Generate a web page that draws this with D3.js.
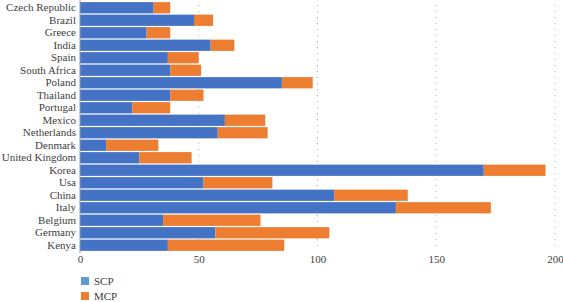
<!DOCTYPE html>
<html><head><meta charset="utf-8">
<script src="https://cdn.jsdelivr.net/npm/d3@7"></script>
<style>body{margin:0;background:#fff;}svg{display:block;} text{font-family:"Liberation Serif",serif;}</style>
</head><body>
<svg id="c" width="563" height="302"></svg>
<script>
const categories = ["Czech Republic","Brazil","Greece","India","Spain","South Africa","Poland","Thailand","Portugal","Mexico","Netherlands","Denmark","United Kingdom","Korea","Usa","China","Italy","Belgium","Germany","Kenya"];
const scp = [31,48,28,55,37,38,85,38,22,61,58,11,25,170,52,107,133,35,57,37];
const mcp = [7,8,10,10,13,13,13,14,16,17,21,22,22,26,29,31,40,41,48,49];
const xTicks = [0,50,100,150,200];
const seriesNames = ["SCP","MCP"];

const svg = d3.select("#c");
const x = d3.scaleLinear().domain([0,200]).range([80,555]);
const y = d3.scaleBand().domain(categories).range([1.5,251.5]).paddingInner(0.1).paddingOuter(0.05);

// gridlines
svg.append("g").selectAll("line").data(xTicks.filter(d=>d>0)).join("line")
  .attr("x1",d=>x(d)).attr("x2",d=>x(d)).attr("y1",5).attr("y2",250)
  .attr("stroke","#aaa").attr("stroke-width",1).attr("stroke-dasharray","1,5");

const rows = categories.map((c,i)=>({c, s:scp[i], m:mcp[i]}));
svg.append("g").selectAll("rect").data(rows).join("rect")
  .attr("x",x(0)).attr("y",d=>y(d.c)).attr("width",d=>x(d.s)-x(0)).attr("height",y.bandwidth())
  .attr("fill","#4472C4");
svg.append("g").selectAll("rect").data(rows).join("rect")
  .attr("x",d=>x(d.s)).attr("y",d=>y(d.c)).attr("width",d=>x(d.s+d.m)-x(d.s)).attr("height",y.bandwidth())
  .attr("fill","#ED7D31");

// zero axis line
svg.append("line").attr("x1",x(0)).attr("x2",x(0)).attr("y1",0).attr("y2",253)
  .attr("stroke","#999").attr("stroke-width",1);

// category labels
const yAxis = d3.axisLeft(y).tickSize(0).tickPadding(3);
const gy = svg.append("g").attr("transform",`translate(${x(0)-1},0)`).call(yAxis);
gy.select(".domain").remove();
gy.selectAll("text").style("font-family",'"Liberation Serif", serif').attr("font-size",11).attr("fill","#404040");

// x tick labels
const xAxis = d3.axisBottom(x).tickValues(xTicks).tickSize(0).tickPadding(0);
const gx = svg.append("g").attr("transform","translate(0,255)").call(xAxis);
gx.select(".domain").remove();
gx.selectAll("text").style("font-family",'"Liberation Serif", serif').attr("font-size",11).attr("fill","#404040");

// legend
const leg = svg.append("g");
const legColors = ["#5B9BD5","#ED7D31"];
seriesNames.forEach((n,i)=>{
  const yy = 277 + i*15;
  leg.append("rect").attr("x",81).attr("y",yy).attr("width",8).attr("height",8).attr("fill",legColors[i]);
  leg.append("text").attr("x",94).attr("y",yy+8).style("font-family",'"Liberation Serif", serif').attr("font-size",11).attr("fill","#404040").text(n);
});
</script>
</body></html>
